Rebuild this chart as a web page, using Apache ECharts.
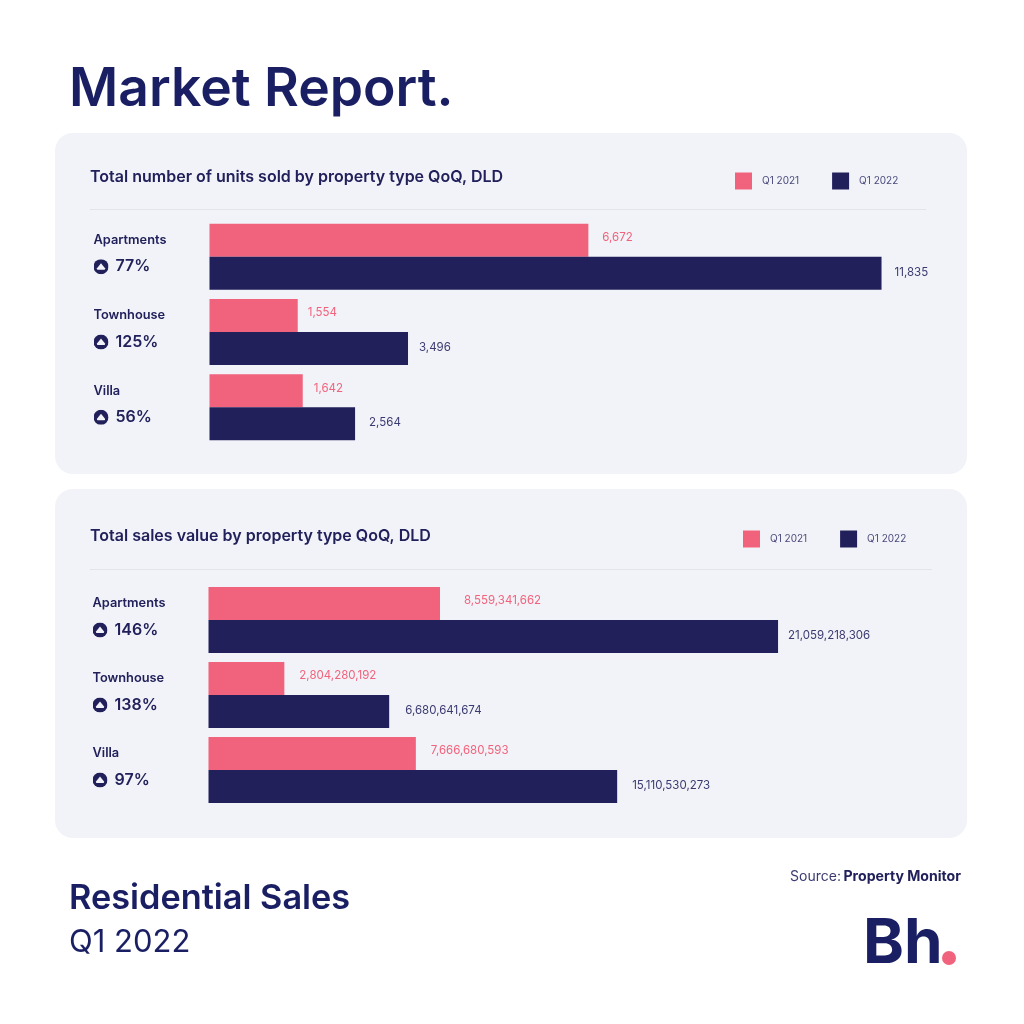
<!DOCTYPE html>
<html>
<head>
<meta charset="utf-8">
<title>Market Report</title>
<script src="https://cdn.jsdelivr.net/npm/echarts@6/dist/echarts.min.js"></script>
<style>html,body{margin:0;padding:0;background:#fff}</style>
</head>
<body>
<div id="main" style="width:1024px;height:1024px;"></div>
<script>
var categories = ['Apartments', 'Townhouse', 'Villa'];
var seriesNames = ['Q1 2021', 'Q1 2022'];
var units2021 = [6672, 1554, 1642];
var units2022 = [11835, 3496, 2564];
var unitsChange = ['77%', '125%', '56%'];
var sales2021 = [8559341662, 2804280192, 7666680593];
var sales2022 = [21059218306, 6680641674, 15110530273];
var salesChange = ['146%', '138%', '97%'];

var NAVY = '#1a1f63', BAR_NAVY = '#21205b', PINK = '#f1627c', PANEL = '#f2f3f8', FONT = 'Inter';

var upIcon = 'data:image/svg+xml;utf8,' + encodeURIComponent(
  '<svg xmlns="http://www.w3.org/2000/svg" width="60" height="60" viewBox="0 0 30 30">' +
  '<circle cx="15" cy="15" r="15" fill="#21205b"/>' +
  '<path d="M15 8 L23 18 Q24 21 21 21 L9 21 Q6 21 7 18 Z" fill="#f2f3f8"/></svg>');

var myChart = echarts.init(document.getElementById('main'), null, {renderer: 'canvas'});

function catAxis(index, changes) {
  return {
    type: 'category', gridIndex: index, data: categories, inverse: true,
    axisLine: {show: false}, axisTick: {show: false},
    axisLabel: {
      align: 'left', margin: 116, interval: 0,
      padding: [0, 0, 8, 0],
      formatter: function (v, i) { return '{name|' + v + '}\n{icon|}{pct|' + changes[i] + '}'; },
      rich: {
        name: {fontFamily: FONT, fontSize: 12.8, fontWeight: 600, color: BAR_NAVY, height: 28, lineHeight: 28},
        icon: {width: 15, height: 15, backgroundColor: {image: upIcon}},
        pct: {fontFamily: FONT, fontSize: 16, fontWeight: 600, color: BAR_NAVY, padding: [0, 0, 0, 7], lineHeight: 25}
      }
    }
  };
}

function barSeries(name, data, index, color, gaps) {
  return {
    name: name, type: 'bar', xAxisIndex: index, yAxisIndex: index,
    barWidth: 33, barGap: 0,
    itemStyle: {color: color},
    data: data.map(function (v, i) {
      return {value: v, label: {distance: gaps[i]}};
    }),
    label: {
      show: true, position: 'right', fontFamily: FONT, fontSize: 11.5,
      offset: [0, color === PINK ? -2.5 : -1],
      color: color === PINK ? PINK : '#3b3a70',
      formatter: function (p) { return p.value.toLocaleString('en-US'); }
    },
    silent: true
  };
}

function legend(left, top) {
  return {
    data: seriesNames, left: left, top: top, padding: 0, itemWidth: 17, itemHeight: 17, itemGap: 33,
    icon: 'rect', selectedMode: false,
    textStyle: {fontFamily: FONT, fontSize: 10, color: '#4b4a7c', padding: [0, 0, 6, 5]}
  };
}

function text(x, y, str, size, weight, color, align) {
  return {
    type: 'text', x: x, y: y, silent: true,
    style: {text: str, fontFamily: FONT, fontSize: size, fontWeight: weight, fill: color,
      align: align || 'left', verticalAlign: 'middle'}
  };
}

function panel(y, h) {
  return {type: 'rect', z: -1, silent: true, shape: {x: 55, y: y, width: 912, height: h, r: 18}, style: {fill: PANEL}};
}

function rule(y, x2) {
  return {type: 'line', z: -1, silent: true, shape: {x1: 90, y1: y, x2: x2, y2: y}, style: {stroke: '#e3e4ea', lineWidth: 1}};
}

var option = {
  animation: false,
  backgroundColor: '#fff',
  grid: [
    {left: 209.5, top: 219, width: 681.4, height: 226},
    {left: 208.5, top: 582.5, width: 595, height: 225}
  ],
  xAxis: [
    {type: 'value', gridIndex: 0, min: 0, max: 12000, show: false},
    {type: 'value', gridIndex: 1, min: 0, max: 22000000000, show: false}
  ],
  yAxis: [catAxis(0, unitsChange), catAxis(1, salesChange)],
  legend: [legend(735, 172.5), legend(743, 530.5)],
  series: [
    barSeries(seriesNames[0], units2021, 0, PINK, [14, 10, 11]),
    barSeries(seriesNames[1], units2022, 0, BAR_NAVY, [13, 11, 14]),
    barSeries(seriesNames[0], sales2021, 1, PINK, [24, 15, 15]),
    barSeries(seriesNames[1], sales2022, 1, BAR_NAVY, [10, 16, 15])
  ],
  graphic: [
    panel(133, 341), panel(489, 349),
    rule(209.5, 926), rule(569.5, 932),
    text(69, 90, 'Market Report.', 53.4, 600, NAVY),
    text(90, 177.5, 'Total number of units sold by property type QoQ, DLD', 16, 600, BAR_NAVY),
    text(90, 536.5, 'Total sales value by property type QoQ, DLD', 16, 600, BAR_NAVY),
    text(69, 899, 'Residential Sales', 34.3, 600, NAVY),
    text(69, 943, 'Q1 2022', 31, 400, NAVY),
    text(841, 876.5, 'Source:', 14, 400, '#3b3a70', 'right'),
    text(961, 876.5, 'Property Monitor', 14.1, 700, BAR_NAVY, 'right'),
    text(863, 944, 'Bh', 62, 700, NAVY),
    {type: 'circle', silent: true, shape: {cx: 949, cy: 958, r: 7}, style: {fill: PINK}}
  ]
};
myChart.setOption(option);
</script>
</body>
</html>
